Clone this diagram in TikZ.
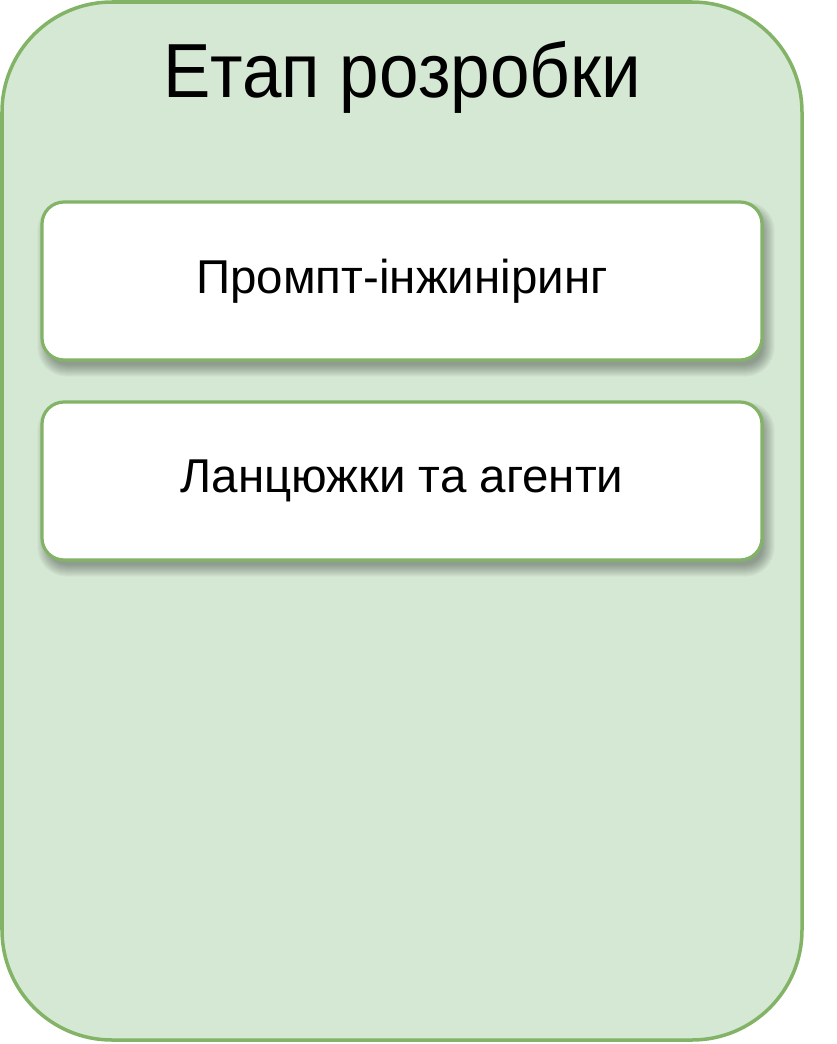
\documentclass[tikz,border=0pt]{standalone}
\usepackage{fontspec}
\setmainfont{Liberation Sans}
\definecolor{stagefill}{HTML}{D5E8D4}
\definecolor{stageline}{HTML}{82B366}
\pgfdeclarelayer{stagelayer}
\pgfdeclarelayer{shadelayer}
\pgfsetlayers{stagelayer,shadelayer,main}
\tikzset{
  stagebox/.style={draw=stageline, fill=stagefill, line width=3.5pt, rounded corners=110pt,
    minimum width=800pt, minimum height=1038pt, inner sep=0pt},
  titletext/.style={inner sep=0pt, font=\fontsize{71}{80}\selectfont},
  itembox/.style={draw=stageline, fill=white, line width=3.2pt, rounded corners=22pt,
    minimum width=720pt, minimum height=158pt, inner sep=0pt,
    font=\fontsize{47.5}{55}\selectfont},
  shadelayerstyle/.style={fill=black, opacity=0.028}
}
\begin{document}
\begin{tikzpicture}[x=1pt, y=-1pt]
\useasboundingbox (0,0) rectangle (836,1044);
\begin{pgfonlayer}{stagelayer}
\node[stagebox] (stage) at (402,521) {};
\end{pgfonlayer}
\node[titletext, anchor=base] (title) at (402,97) {\scalebox{1}[1.08]{Етап розробки}};
\node[itembox] (prompt) at (402,281) {Промпт-інжиніринг};
\node[itembox] (chains) at (402,481) {Ланцюжки та агенти};
\begin{pgfonlayer}{shadelayer}
\foreach \n in {prompt,chains}{
  \foreach \e in {-5,...,7}{
    \pgfmathsetmacro\rr{22+\e}
    \fill[shadelayerstyle, rounded corners=\rr pt]
      ([shift={(4-\e,8-\e)}]\n.north west) rectangle ([shift={(4+\e,8+\e)}]\n.south east);
  }
}
\end{pgfonlayer}
\end{tikzpicture}
\end{document}
